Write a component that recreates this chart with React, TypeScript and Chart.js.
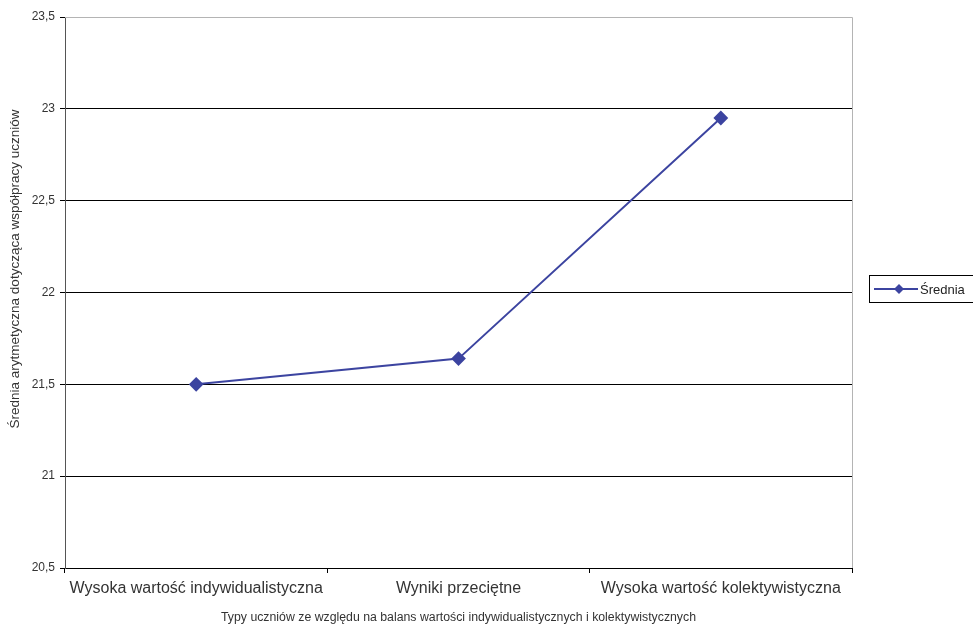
import React, { useEffect, useRef } from "react";
import { Chart, registerables } from "chart.js";

Chart.register(...registerables);

const categories = [
  "Wysoka wartość indywidualistyczna",
  "Wyniki przeciętne",
  "Wysoka wartość kolektywistyczna",
];
const seriesName = "Średnia";
const seriesValues = [21.5, 21.64, 22.95];
const yMin = 20.5;
const yMax = 23.5;
const yStep = 0.5;
const xTitle =
  "Typy uczniów ze względu na balans wartości indywidualistycznych i kolektywistycznych";
const yTitle = "Średnia arytmetyczna dotycząca współpracy uczniów";

const LINE = "#3C44A0";
const FONT = "'Liberation Sans', Arial, sans-serif";

export default function App() {
  const ref = useRef<HTMLCanvasElement | null>(null);

  useEffect(() => {
    if (!ref.current) return;
    const decor = {
      id: "decor",
      afterDraw(chart: any) {
        const { ctx, chartArea } = chart;
        const { left, right, top, bottom } = chartArea;
        ctx.save();
        // top/right border
        ctx.strokeStyle = "#b4b4b4";
        ctx.lineWidth = 1;
        ctx.beginPath();
        ctx.moveTo(left, top + 0.5);
        ctx.lineTo(right + 0.5, top + 0.5);
        ctx.lineTo(right + 0.5, bottom);
        ctx.stroke();
        // axis titles
        ctx.fillStyle = "#333";
        ctx.font = `12.3px ${FONT}`;
        ctx.textAlign = "center";
        ctx.textBaseline = "middle";
        ctx.fillText(xTitle, (left + right) / 2, 618);
        ctx.font = `13.5px ${FONT}`;
        ctx.translate(15, 269);
        ctx.rotate(-Math.PI / 2);
        ctx.fillText(yTitle, 0, 0);
        ctx.restore();
        // legend
        ctx.save();
        ctx.strokeStyle = "#000";
        ctx.lineWidth = 1;
        ctx.strokeRect(869.5, 275.5, 120, 27);
        const ly = 289;
        ctx.strokeStyle = LINE;
        ctx.lineWidth = 2;
        ctx.beginPath();
        ctx.moveTo(874, ly);
        ctx.lineTo(918, ly);
        ctx.stroke();
        ctx.fillStyle = LINE;
        ctx.beginPath();
        ctx.moveTo(899, ly - 5);
        ctx.lineTo(904, ly);
        ctx.lineTo(899, ly + 5);
        ctx.lineTo(894, ly);
        ctx.closePath();
        ctx.fill();
        ctx.fillStyle = "#222";
        ctx.font = `13px ${FONT}`;
        ctx.textAlign = "left";
        ctx.textBaseline = "middle";
        ctx.fillText(seriesName, 920, ly + 1);
        ctx.restore();
      },
    };

    const chart = new Chart(ref.current, {
      type: "line",
      data: {
        labels: categories,
        datasets: [
          {
            label: seriesName,
            data: seriesValues,
            borderColor: LINE,
            backgroundColor: LINE,
            borderWidth: 2,
            pointStyle: "rectRot",
            pointRadius: 6,
            pointHoverRadius: 6,
            tension: 0,
          },
        ],
      },
      options: {
        animation: false,
        responsive: false,
        devicePixelRatio: 1,
        layout: { padding: { left: 0, right: 121, top: 17, bottom: 0 } },
        plugins: {
          legend: { display: false },
          tooltip: { enabled: false },
        },
        scales: {
          x: {
            type: "category",
            offset: true,
            afterFit(scale: any) {
              scale.height = 60;
            },
            grid: {
              offset: true,
              drawOnChartArea: false,
              drawTicks: true,
              tickLength: 5,
              color: "#000",
            },
            border: { color: "#000", width: 1 },
            ticks: {
              color: "#333",
              font: { family: FONT, size: 16 },
              padding: 6,
              maxRotation: 0,
              autoSkip: false,
            },
          },
          y: {
            min: yMin,
            max: yMax,
            afterFit(scale: any) {
              scale.width = 65;
            },
            afterBuildTicks(scale: any) {
              const t: any[] = [];
              for (let v = yMin; v <= yMax + 1e-9; v += yStep) t.push({ value: Math.round(v * 10) / 10 });
              scale.ticks = t;
            },
            grid: {
              color: (c: any) => (c.tick && c.tick.value === yMax ? "#b4b4b4" : "#000"),
              tickColor: "#000",
              tickLength: 5,
              drawTicks: true,
            },
            border: { color: "#555", width: 1 },
            ticks: {
              color: "#333",
              font: { family: FONT, size: 12 },
              padding: 5,
              callback: (v: any) => String(v).replace(".", ","),
            },
          },
        },
      },
      plugins: [decor],
    });
    return () => chart.destroy();
  }, []);

  return (
    <div style={{ position: "fixed", left: 0, top: 0, width: 973, height: 628, background: "#fff" }}>
      <canvas ref={ref} width={973} height={628} style={{ display: "block" }} />
    </div>
  );
}
